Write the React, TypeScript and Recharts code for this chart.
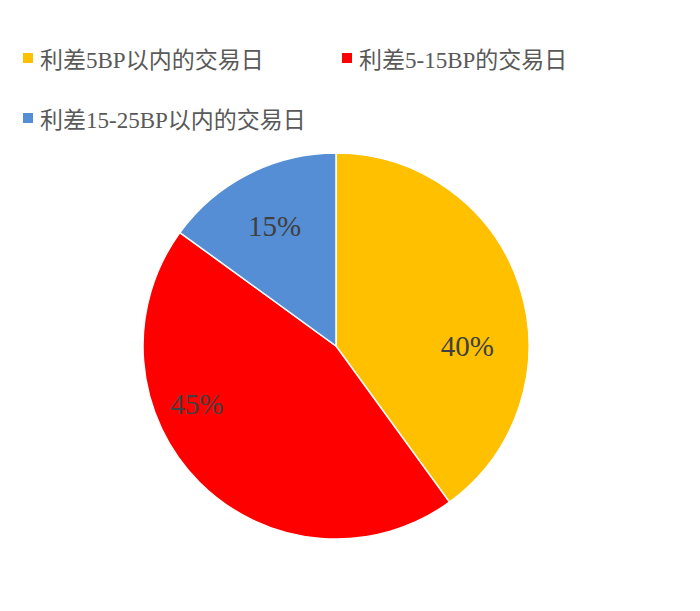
import React from "react";
import { PieChart, Pie, Cell } from "recharts";

const categories = ["利差5BP以内的交易日", "利差5-15BP的交易日", "利差15-25BP以内的交易日"];
const shares = [40, 45, 15];
const colors = ["#FFC000", "#FF0000", "#558ED5"];

const data = categories.map((name, i) => ({ name, value: shares[i] }));

const FONT = '"Liberation Serif", "Noto Sans CJK SC", serif';
const RAD = Math.PI / 180;

// label placement (angle in degrees, radius as fraction of outer radius); null angle = slice mid angle
const labelPlacement: { angle: number | null; r: number }[] = [
  { angle: 0, r: 0.68 },
  { angle: 202.5, r: 0.78 },
  { angle: null, r: 0.7 },
];

const renderLabel = (props: any) => {
  const { cx, cy, midAngle, outerRadius, index, value } = props;
  const p = labelPlacement[index];
  const a = p.angle === null ? midAngle : p.angle;
  const r = outerRadius * p.r;
  const x = cx + r * Math.cos(a * RAD);
  const y = cy - r * Math.sin(a * RAD);
  return (
    <text
      x={x}
      y={y}
      fill="#404040"
      fontFamily={FONT}
      fontSize={29}
      textAnchor="middle"
      dominantBaseline="central"
    >
      {`${value}%`}
    </text>
  );
};

const LegendBox = () => (
  <div
    style={{
      position: "absolute",
      top: 20,
      left: 15,
      display: "flex",
      flexWrap: "wrap",
      width: 660,
    }}
  >
    {categories.map((c, i) => (
      <div
        key={c}
        style={{
          width: 319,
          height: 60,
          display: "flex",
          alignItems: "center",
          fontFamily: FONT,
          fontSize: 23,
          color: "#595959",
          whiteSpace: "nowrap",
        }}
      >
        <span
          style={{
            display: "inline-block",
            width: 10,
            height: 10,
            background: colors[i],
            marginRight: 7,
          }}
        />
        {c}
      </div>
    ))}
  </div>
);

export default function App() {
  return (
    <div style={{ position: "relative", width: 692, height: 603 }}>
      <PieChart width={692} height={603}>
        <Pie
          data={data}
          dataKey="value"
          nameKey="name"
          cx={323}
          cy={333}
          outerRadius={193}
          startAngle={90}
          endAngle={-270}
          stroke="#FFFFFF"
          strokeWidth={1.5}
          label={renderLabel}
          labelLine={false}
          isAnimationActive={false}
        >
          {data.map((d, i) => (
            <Cell key={d.name} fill={colors[i]} />
          ))}
        </Pie>
      </PieChart>
      <LegendBox />
    </div>
  );
}
